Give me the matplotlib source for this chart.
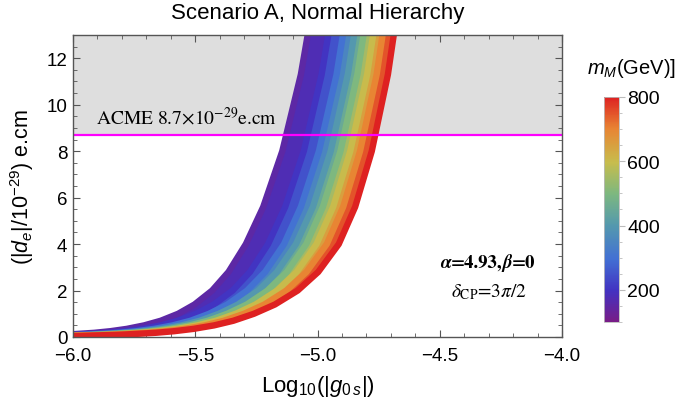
import numpy as np
import matplotlib
matplotlib.use("Agg")
import matplotlib.pyplot as plt
from matplotlib.colors import LinearSegmentedColormap, Normalize
from matplotlib.cm import ScalarMappable
from matplotlib.ticker import MultipleLocator

plt.rcParams['font.family'] = ['Liberation Sans', 'DejaVu Sans']
plt.rcParams['mathtext.fontset'] = 'custom'
plt.rcParams['mathtext.rm'] = 'Liberation Sans'
plt.rcParams['mathtext.it'] = 'Liberation Sans:italic'
plt.rcParams['mathtext.bf'] = 'Liberation Sans:bold'

# ---------------- data ----------------
# |d_e| levels (units of 1e-29 e.cm) at which each mass curve is sampled
de_levels = [0.02, 0.05, 0.1, 0.18, 0.25, 0.35, 0.5, 0.7, 1, 1.4, 2, 2.8, 4, 5.6, 8, 11.3, 16]
# masses m_M (GeV) of the sampled curves
masses = [150, 200, 300, 400, 500, 600, 700, 800]
# log10|g0s| where each mass curve crosses the |d_e| levels above
logg_m150 = [-6.352, -6.169, -6.031, -5.913, -5.847, -5.780, -5.709, -5.641, -5.570, -5.503, -5.431, -5.364, -5.293, -5.222, -5.144, -5.068, -4.991]
logg_m200 = [-6.311, -6.120, -5.976, -5.853, -5.784, -5.715, -5.640, -5.570, -5.496, -5.424, -5.347, -5.276, -5.202, -5.132, -5.056, -4.983, -4.908]
logg_m300 = [-6.281, -6.085, -5.937, -5.811, -5.740, -5.668, -5.592, -5.519, -5.443, -5.368, -5.288, -5.214, -5.137, -5.068, -4.994, -4.922, -4.850]
logg_m400 = [-6.259, -6.058, -5.907, -5.778, -5.706, -5.633, -5.555, -5.481, -5.403, -5.325, -5.242, -5.166, -5.088, -5.019, -4.946, -4.876, -4.805]
logg_m500 = [-6.240, -6.036, -5.882, -5.751, -5.677, -5.603, -5.523, -5.448, -5.369, -5.289, -5.204, -5.125, -5.046, -4.978, -4.906, -4.837, -4.767]
logg_m600 = [-6.221, -6.013, -5.856, -5.723, -5.649, -5.573, -5.492, -5.415, -5.334, -5.253, -5.165, -5.085, -5.004, -4.936, -4.866, -4.797, -4.729]
logg_m700 = [-6.202, -5.991, -5.831, -5.696, -5.620, -5.543, -5.460, -5.383, -5.300, -5.217, -5.127, -5.045, -4.962, -4.895, -4.826, -4.758, -4.691]
logg_m800 = [-6.179, -5.964, -5.801, -5.663, -5.586, -5.507, -5.423, -5.344, -5.260, -5.174, -5.081, -4.997, -4.913, -4.846, -4.778, -4.712, -4.646]
curves = [logg_m150, logg_m200, logg_m300, logg_m400, logg_m500, logg_m600, logg_m700, logg_m800]

acme_limit = 8.7
mass_min, mass_max = 100, 800
xticks = [-6.0, -5.5, -5.0, -4.5, -4.0]
yticks = [0, 2, 4, 6, 8, 10, 12]
cbar_ticks = [200, 400, 600, 800]

# ---------------- colormap (Mathematica-like "Rainbow") ----------------
cmap = LinearSegmentedColormap.from_list('rainbow_m', [
    (0.00, (0.47, 0.11, 0.53)),
    (0.14, (0.26, 0.20, 0.76)),
    (0.28, (0.26, 0.44, 0.83)),
    (0.43, (0.33, 0.60, 0.68)),
    (0.57, (0.49, 0.72, 0.50)),
    (0.71, (0.78, 0.74, 0.30)),
    (0.86, (0.91, 0.52, 0.20)),
    (1.00, (0.87, 0.13, 0.13)),
])
norm = Normalize(mass_min, mass_max)

W, H = 679, 406
fig = plt.figure(figsize=(W / 100, H / 100), dpi=100)
ax = fig.add_axes([73 / W, 1 - 338 / H, (562 - 73) / W, (338 - 36) / H])

ax.set_xlim(-6.0, -4.0)
ax.set_ylim(0, 13)

# excluded region
ax.axhspan(acme_limit, 13, color='#dedede', zorder=0, lw=0)

Y = np.array(de_levels)
for i in range(len(curves) - 1):
    xa = np.array(curves[i]); xb = np.array(curves[i + 1])
    mid = 0.5 * (masses[i] + masses[i + 1])
    ax.fill(np.r_[xa, xb[::-1]], np.r_[Y, Y[::-1]], color=cmap(norm(mid)), lw=0, zorder=2)
for m, xc in zip(masses, curves):
    ax.plot(xc, Y, color=cmap(norm(m)), lw=4.6, solid_capstyle='round',
            solid_joinstyle='round', zorder=3)

ax.axhline(acme_limit, color='#ff00ff', lw=1.6, zorder=5)

ax.text(-5.905, 9.49, r'ACME 8.7$\times$10$^{-29}$e.cm', fontsize=14,
        family='STIXGeneral', math_fontfamily='stix', va='center', ha='left', zorder=6)


def chained(x, y, parts, size):
    prev = None
    for s, style in parts:
        kw = dict(fontsize=size, family='STIXGeneral', weight='bold', style=style, zorder=6)
        if prev is None:
            prev = ax.text(x, y, s, ha='left', va='center', **kw)
        else:
            prev = ax.annotate(s, xy=(1, 0), xycoords=prev, ha='left', va='bottom', **kw)


chained(-4.497, 3.23, [('\u03b1', 'italic'), ('=4.93,', 'normal'),
                       ('\u03b2', 'italic'), ('=0', 'normal')], 13.5)
ax.text(-4.298, 1.98, r'$\delta_{\rm CP}$=3$\pi$/2', fontsize=14, family='STIXGeneral',
        math_fontfamily='stix', ha='center', va='center', zorder=6)

fig.text(318 / W, 1 - 14 / H, 'Scenario A, Normal Hierarchy', fontsize=16,
         ha='center', va='center')
ax.set_xlabel(r'Log$_{10}$(|$g_{0\,s}$|)', fontsize=16)
ax.xaxis.label.set_va('center')
ax.xaxis.set_label_coords(0.5, (338 - 387) / 302)
ax.set_ylabel(r'(|$d_e$|/10$^{-29}$) e.cm', fontsize=15.5)
ax.yaxis.label.set_va('center')
ax.yaxis.set_label_coords((22 - 73) / 489, 0.5)

ax.set_xticks(xticks)
ax.set_xticklabels(['\u2212%.1f' % abs(v) for v in xticks])
ax.set_yticks(yticks)
ax.xaxis.set_minor_locator(MultipleLocator(0.1))
ax.yaxis.set_minor_locator(MultipleLocator(0.5))
ax.tick_params(which='both', direction='in', top=True, right=True, color='#555555')
ax.tick_params(which='major', length=5, width=0.8, labelsize=13.5)
ax.tick_params(axis='x', which='major', pad=7)
ax.tick_params(axis='y', which='major', pad=4)
ax.tick_params(which='minor', length=2.8, width=0.6)
for s in ax.spines.values():
    s.set_color('#555555'); s.set_linewidth(1.0)
    s.set_zorder(7)

# colorbar
cax = fig.add_axes([604 / W, 1 - 323 / H, 15 / W, (323 - 98) / H])
sm = ScalarMappable(norm=norm, cmap=cmap)
cb = fig.colorbar(sm, cax=cax, ticks=cbar_ticks)
cb.outline.set_edgecolor('#bbbbbb')
cb.outline.set_linewidth(0.6)
cax.yaxis.set_minor_locator(MultipleLocator(50))
cax.tick_params(which='both', direction='out', color='#bbbbbb', right=True)
cax.tick_params(which='major', length=4, labelsize=14, pad=2)
cax.tick_params(which='minor', length=2.5)
fig.text(631 / W, 1 - 68 / H, r'$m_M$(GeV)]', fontsize=14.5, ha='center', va='center')

fig.savefig('out.png', dpi=100)
